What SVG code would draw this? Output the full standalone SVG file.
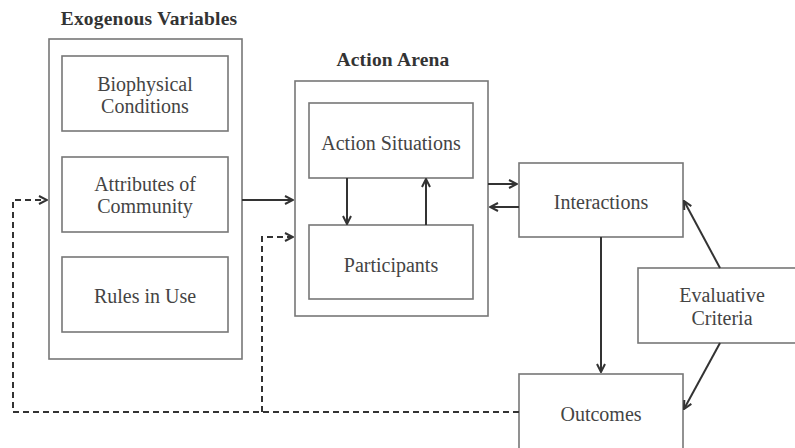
<svg xmlns="http://www.w3.org/2000/svg" width="795" height="448" viewBox="0 0 795 448">
<defs>
<marker id="ah" viewBox="0 0 10 10" refX="9" refY="5" markerWidth="10" markerHeight="10" markerUnits="userSpaceOnUse" orient="auto">
<path d="M1,1 L9,5 L1,9" fill="none" stroke="#333" stroke-width="2"/>
</marker>
<style>
.box{fill:#fff;stroke:#777;stroke-width:1.6}
.t{font-family:'Liberation Serif','DejaVu Serif',serif;font-size:20px;fill:#444;text-anchor:middle}
.h{font-family:'Liberation Serif','DejaVu Serif',serif;font-size:19.5px;letter-spacing:0.2px;font-weight:bold;fill:#333;text-anchor:middle}
.c{fill:none;stroke:#333;stroke-width:2}
.d{fill:none;stroke:#333;stroke-width:2;stroke-dasharray:6,4}
</style>
</defs>
<rect width="795" height="448" fill="#fff"/>
<g id="exogenous">
<text class="h" x="149" y="25">Exogenous Variables</text>
<rect class="box" x="49" y="39" width="193" height="320"/>
</g>
<g id="biophysical">
<rect class="box" x="62" y="56" width="166" height="75"/>
<text class="t" x="145" y="91">Biophysical</text>
<text class="t" x="145" y="113">Conditions</text>
</g>
<g id="attributes">
<rect class="box" x="62" y="157" width="166" height="75"/>
<text class="t" x="145" y="191">Attributes of</text>
<text class="t" x="145" y="213">Community</text>
</g>
<g id="rules">
<rect class="box" x="62" y="257" width="166" height="75"/>
<text class="t" x="145" y="303">Rules in Use</text>
</g>
<g id="action-arena">
<text class="h" x="393" y="66">Action Arena</text>
<rect class="box" x="295" y="81" width="193" height="235"/>
</g>
<g id="action-situations">
<rect class="box" x="309" y="103" width="164" height="75"/>
<text class="t" x="391" y="150">Action Situations</text>
</g>
<g id="participants">
<rect class="box" x="309" y="225" width="164" height="74"/>
<text class="t" x="391" y="272">Participants</text>
</g>
<g id="interactions">
<rect class="box" x="519" y="163" width="164" height="74"/>
<text class="t" x="601" y="209">Interactions</text>
</g>
<g id="evaluative">
<rect class="box" x="638" y="268" width="165" height="75"/>
<text class="t" x="722" y="302">Evaluative</text>
<text class="t" x="722" y="325">Criteria</text>
</g>
<g id="outcomes">
<rect class="box" x="519" y="374" width="164" height="80"/>
<text class="t" x="601" y="421">Outcomes</text>
</g>
<g id="connectors">
<line class="c" x1="242" y1="200" x2="293" y2="200" marker-end="url(#ah)"/>
<line class="c" x1="347" y1="178" x2="347" y2="224" marker-end="url(#ah)"/>
<line class="c" x1="426" y1="225" x2="426" y2="179" marker-end="url(#ah)"/>
<line class="c" x1="488" y1="184" x2="517" y2="184" marker-end="url(#ah)"/>
<line class="c" x1="519" y1="207" x2="490" y2="207" marker-end="url(#ah)"/>
<line class="c" x1="601" y1="237" x2="601" y2="372" marker-end="url(#ah)"/>
<line class="c" x1="720" y1="268" x2="684" y2="201" marker-end="url(#ah)"/>
<line class="c" x1="720" y1="343" x2="684" y2="409" marker-end="url(#ah)"/>
<polyline class="d" points="519,412 13,412 13,200 47,200" marker-end="url(#ah)"/>
<polyline class="d" points="262,412 262,237 293,237" marker-end="url(#ah)"/>
</g>
</svg>
